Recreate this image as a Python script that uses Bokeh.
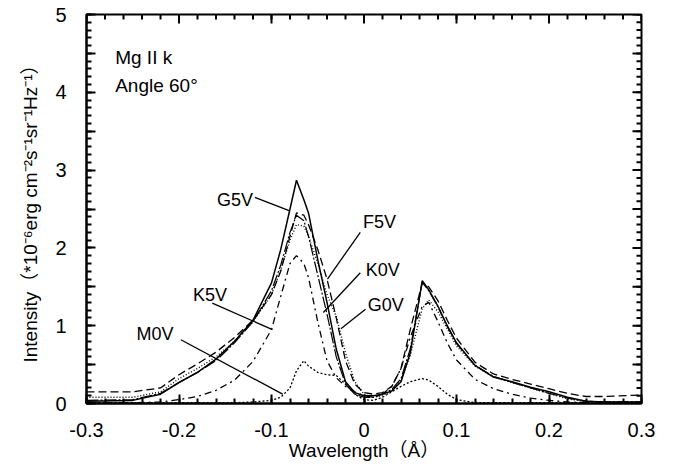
from bokeh.plotting import figure
from bokeh.models import Range1d, FixedTicker, CustomJSTickFormatter, ColumnDataSource
from bokeh.core.properties import value
from bokeh.embed import file_html
from bokeh.resources import INLINE
import numpy as np

FONT = "Liberation Sans"
FONT_CJK = "'Liberation Sans', 'Noto Sans CJK JP', sans-serif"

# ---------------- data ----------------
wavelength = [-0.30, -0.25, -0.22, -0.20, -0.18, -0.16, -0.14, -0.12, -0.10, -0.09,
              -0.08, -0.073, -0.065, -0.06, -0.05, -0.04, -0.03, -0.02, -0.01, 0.00,
              0.01, 0.02, 0.03, 0.04, 0.05, 0.063, 0.07, 0.08, 0.09, 0.10,
              0.12, 0.14, 0.16, 0.18, 0.20, 0.22, 0.24, 0.26, 0.30]

g5v = [0.03, 0.04, 0.12, 0.27, 0.40, 0.57, 0.80, 1.07, 1.55, 1.98,
       2.50, 2.87, 2.62, 2.45, 1.85, 1.30, 0.70, 0.28, 0.14, 0.10,
       0.10, 0.12, 0.16, 0.28, 0.65, 1.58, 1.46, 1.25, 1.00, 0.78,
       0.49, 0.34, 0.28, 0.21, 0.15, 0.08, 0.03, 0.02, 0.02]
f5v = [0.15, 0.15, 0.20, 0.37, 0.51, 0.66, 0.85, 1.07, 1.40, 1.70,
       2.15, 2.45, 2.42, 2.30, 1.98, 1.60, 1.10, 0.55, 0.25, 0.14,
       0.12, 0.14, 0.22, 0.45, 0.95, 1.55, 1.50, 1.32, 1.07, 0.84,
       0.53, 0.38, 0.31, 0.25, 0.19, 0.13, 0.09, 0.09, 0.11]
k0v = [0.04, 0.05, 0.13, 0.27, 0.40, 0.55, 0.78, 1.05, 1.45, 1.78,
       2.20, 2.42, 2.35, 2.15, 1.65, 1.15, 0.60, 0.25, 0.12, 0.08,
       0.08, 0.12, 0.18, 0.32, 0.70, 1.56, 1.45, 1.24, 0.99, 0.77,
       0.49, 0.35, 0.27, 0.20, 0.13, 0.07, 0.03, 0.02, 0.02]
g0v = [0.08, 0.08, 0.15, 0.32, 0.45, 0.60, 0.80, 1.05, 1.40, 1.72,
       2.10, 2.30, 2.28, 2.15, 1.80, 1.40, 1.12, 0.65, 0.28, 0.12,
       0.08, 0.10, 0.16, 0.30, 0.62, 1.22, 1.33, 1.18, 0.96, 0.74,
       0.48, 0.34, 0.27, 0.20, 0.13, 0.06, 0.02, 0.02, 0.02]
k5v = [0.01, 0.01, 0.02, 0.05, 0.09, 0.17, 0.30, 0.54, 0.95, 1.38,
       1.80, 1.90, 1.80, 1.62, 1.05, 0.55, 0.33, 0.22, 0.15, 0.10,
       0.08, 0.12, 0.22, 0.45, 0.85, 1.25, 1.30, 1.05, 0.78, 0.56,
       0.31, 0.19, 0.12, 0.07, 0.04, 0.02, 0.01, 0.01, 0.01]
m0v = [0.01, 0.01, 0.01, 0.01, 0.01, 0.01, 0.01, 0.02, 0.04, 0.08,
       0.20, 0.42, 0.55, 0.48, 0.40, 0.37, 0.36, 0.25, 0.12, 0.05,
       0.04, 0.08, 0.15, 0.22, 0.28, 0.32, 0.30, 0.22, 0.12, 0.05,
       0.01, 0.01, 0.01, 0.01, 0.01, 0.01, 0.01, 0.01, 0.01]

series_names = ["G5V", "F5V", "K0V", "G0V", "K5V", "M0V"]
series_values = [g5v, f5v, k0v, g0v, k5v, m0v]

# label annotations (text anchor and leader line end points, data coords)
label_x = [-0.120, -0.001, 0.002, 0.004, -0.148, -0.206]
label_y = [2.62, 2.33, 1.71, 1.26, 1.39, 0.89]
label_align = ["right", "left", "left", "left", "right", "right"]
leader_x0 = [-0.118, -0.004, -0.004, 0.0016, -0.164, -0.198]
leader_y0 = [2.65, 2.20, 1.68, 1.21, 1.29, 0.82]
leader_x1 = [-0.081, -0.0395, -0.044, -0.025, -0.099, -0.088]
leader_y1 = [2.48, 1.60, 1.17, 0.96, 0.95, 0.12]

X_MIN, X_MAX = -0.3, 0.3
Y_MIN, Y_MAX = 0.0, 5.0
x_ticks = [-0.3, -0.2, -0.1, 0.0, 0.1, 0.2, 0.3]
y_ticks = [0, 0.5, 1, 1.5, 2, 2.5, 3, 3.5, 4, 4.5, 5]
x_minor = [round(v, 3) for v in np.arange(X_MIN, X_MAX + 1e-4, 0.02)]
y_minor = [round(v, 2) for v in np.arange(Y_MIN, Y_MAX + 1e-4, 0.1)]

# ---------------- layout ----------------
W, H = 669, 464
BL, BR, BT, BB = 86, 28, 14, 61
FRAME_W, FRAME_H = W - BL - BR, H - BT - BB
TICK_MAJOR, TICK_MINOR, TICK_W = 9, 5, 2

styles = {
    "G5V": dict(line_width=1.5, line_dash="solid"),
    "F5V": dict(line_width=1.3, line_dash="8 4"),
    "K0V": dict(line_width=1.2, line_dash="12 2 2 2"),
    "G0V": dict(line_width=1.4, line_dash="1 2"),
    "K5V": dict(line_width=1.3, line_dash="7 4 2 4"),
    "M0V": dict(line_width=1.3, line_dash="2 2"),
}

p = figure(width=W, height=H, output_backend="svg", toolbar_location=None,
           x_range=Range1d(X_MIN, X_MAX), y_range=Range1d(Y_MIN, Y_MAX),
           min_border_left=BL, min_border_right=BR, min_border_top=BT,
           min_border_bottom=BB)
p.xgrid.visible = False
p.ygrid.visible = False
p.outline_line_color = "black"
p.outline_line_width = 2

for name, vals in zip(series_names, series_values):
    p.line(wavelength, vals, line_color="black", **styles[name])

p.segment(x0=leader_x0, y0=leader_y0, x1=leader_x1, y1=leader_y1,
          line_color="black", line_width=1.3)

src = ColumnDataSource(dict(x=label_x, y=label_y, t=series_names, a=label_align))
p.text(x="x", y="y", text="t", text_align="a", source=src,
       text_baseline="middle", text_font=value(FONT),
       text_font_size="18px", text_color="black")

p.text(x=[-0.269, -0.269], y=[4.45, 4.09], text=["Mg II k", "Angle 60°"],
       text_baseline="alphabetic", text_align="left", text_font=value(FONT),
       text_font_size="19px", text_color="black")


# inward ticks on the top and right sides, lengths converted from pixels
def px_y(n):
    return n * (Y_MAX - Y_MIN) / FRAME_H


def px_x(n):
    return n * (X_MAX - X_MIN) / FRAME_W


for xs, ln in ((x_ticks, TICK_MAJOR), (x_minor, TICK_MINOR)):
    xs = list(xs)
    p.segment(x0=xs, y0=[Y_MAX] * len(xs), x1=xs, y1=[Y_MAX - px_y(ln)] * len(xs),
              line_color="#000000", line_width=TICK_W)
for ys, ln in ((y_ticks, TICK_MAJOR), (y_minor, TICK_MINOR)):
    ys = list(ys)
    p.segment(x0=[X_MAX] * len(ys), y0=ys, x1=[X_MAX - px_x(ln)] * len(ys), y1=ys,
              line_color="#000000", line_width=TICK_W)

xfmt = CustomJSTickFormatter(code="return Math.abs(tick) < 1e-9 ? '0' : tick.toFixed(1);")
yfmt = CustomJSTickFormatter(code="return Math.abs(tick - Math.round(tick)) < 1e-6 ? tick.toFixed(0) : '';")


def style_axis(ax):
    ax.axis_line_width = 2
    ax.axis_line_color = "black"
    ax.major_tick_in = TICK_MAJOR
    ax.major_tick_out = 0
    ax.minor_tick_in = TICK_MINOR
    ax.minor_tick_out = 0
    ax.major_tick_line_color = "black"
    ax.minor_tick_line_color = "black"
    ax.major_tick_line_width = TICK_W
    ax.minor_tick_line_width = TICK_W
    ax.major_label_text_font = FONT
    ax.major_label_text_font_size = "20px"
    ax.major_label_text_color = "black"
    ax.axis_label_text_color = "black"


xa = p.xaxis[0]
xa.ticker = FixedTicker(ticks=x_ticks, minor_ticks=x_minor)
xa.formatter = xfmt
style_axis(xa)
xa.major_label_standoff = 19
xa.axis_label = "Wavelength（Å）"
xa.axis_label_text_font = FONT_CJK
xa.axis_label_text_font_size = "19px"
xa.axis_label_text_font_style = "normal"
xa.axis_label_standoff = 0

ya = p.yaxis[0]
ya.ticker = FixedTicker(ticks=y_ticks, minor_ticks=y_minor)
ya.formatter = yfmt
style_axis(ya)
ya.major_label_standoff = 20
ya.axis_label = "Intensity（*10⁻⁶erg cm⁻²s⁻¹sr⁻¹Hz⁻¹）"
ya.axis_label_text_font = FONT_CJK
ya.axis_label_text_font_size = "19px"
ya.axis_label_text_font_style = "normal"
ya.axis_label_standoff = 11

open("out.html", "w").write(file_html(p, INLINE))
